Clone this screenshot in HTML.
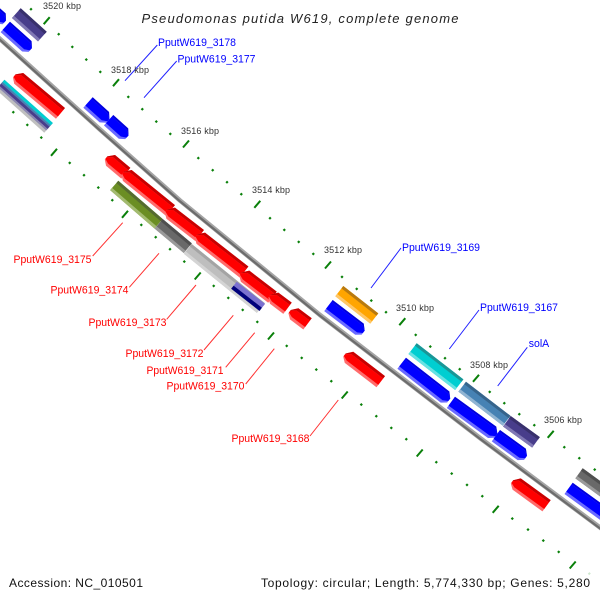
<!DOCTYPE html>
<html><head><meta charset="utf-8"><title>Pseudomonas putida W619, complete genome</title>
<style>
html,body{margin:0;padding:0;background:#fff;width:600px;height:600px;overflow:hidden}
svg{display:block}
text{font-family:"Liberation Sans",sans-serif}
.r .o{fill:#ff6b6b}.r .d{fill:#c80000}.r .m{fill:#ff0000}
.b .o{fill:#6a6aff}.b .d{fill:#0000dc}.b .m{fill:#0000ff}
.k{font-size:9px;fill:#333}
.gr{font-size:11px;fill:#ff0000}
.gb{font-size:11px;fill:#0000ff}
.ft{font-size:12px;fill:#111}
</style></head><body>
<svg width="600" height="600" viewBox="0 0 600 600" xmlns="http://www.w3.org/2000/svg">
<rect width="600" height="600" fill="#fff"/>

<!-- axis -->
<g fill="none" stroke-linejoin="round">
<path d="M-10 30 L0 39 L100 129.5 L180 200.5 L320 315 L480 438 L610 535" stroke="#a4a4a4" stroke-width="4.6"/>
<path d="M-10 30 L0 39 L100 129.5 L180 200.5 L320 315 L480 438 L610 535" stroke="#6c6c6c" stroke-width="2.2" transform="translate(-.4,.5)"/>
</g>

<!-- ticks -->
<g fill="none" stroke="#0a800a" stroke-width="2">
<path d="M43.7 24.2L49.7 17.2M113 86.2L119 79.2M183 147.5L189 140.5M254.3 207.8L260.3 200.8M325 268.5L331 261.5M399.3 325.2L405.3 318.2M473 381.8L479 374.8M547.7 437.8L553.7 430.8M51 155.8L57 148.8M122 217.8L128 210.8M194.7 279.5L200.7 272.5M268 339.5L274 332.5M341.7 398.5L347.7 391.5M416.7 456.5L422.7 449.5M492.7 512.8L498.7 505.8M569.7 568.5L575.7 561.5"/>
<path stroke-width="2.2" d="M30.2 10l1.6-1.6M57.9 35l1.6-1.6M71.5 47.7l1.6-1.6M85.5 60.4l1.6-1.6M99.5 72.7l1.6-1.6M127.5 97.7l1.6-1.6M141.5 110l1.6-1.6M155.5 122.4l1.6-1.6M169.5 134.7l1.6-1.6M197.5 158.9l1.6-1.6M211.9 171l1.6-1.6M226.2 183l1.6-1.6M240.5 195l1.6-1.6M269.2 219l1.6-1.6M283.5 230.7l1.6-1.6M297.9 242.7l1.6-1.6M312.5 254.7l1.6-1.6M341.2 277.7l1.6-1.6M355.9 289.7l1.6-1.6M370.5 301.4l1.6-1.6M385.2 313l1.6-1.6M414.9 335.7l1.6-1.6M429.5 347.4l1.6-1.6M444.2 359l1.6-1.6M458.9 370l1.6-1.6M488.9 392.7l1.6-1.6M503.5 404l1.6-1.6M518.5 415l1.6-1.6M533.5 426l1.6-1.6M563.5 448l1.6-1.6M578.5 459l1.6-1.6M593.9 470.4l1.6-1.6M12.5 113l1.6-1.6M26.5 125.7l1.6-1.6M40.5 138.4l1.6-1.6M68.9 163.7l1.6-1.6M83.2 176l1.6-1.6M97.5 188.4l1.6-1.6M111.5 201l1.6-1.6M140.5 225.7l1.6-1.6M154.9 238l1.6-1.6M169.2 250l1.6-1.6M183.5 262.4l1.6-1.6M212.9 286.7l1.6-1.6M227.5 298.7l1.6-1.6M241.9 310.7l1.6-1.6M256.5 322.7l1.6-1.6M285.9 346.7l1.6-1.6M300.9 358.7l1.6-1.6M315.5 370.4l1.6-1.6M330.5 382l1.6-1.6M360.5 405.4l1.6-1.6M375.5 417l1.6-1.6M390.5 428.7l1.6-1.6M405.5 440l1.6-1.6M435.5 463l1.6-1.6M450.9 474.4l1.6-1.6M466.2 485.7l1.6-1.6M481.5 497l1.6-1.6M511.5 519.4l1.6-1.6M527.2 530.4l1.6-1.6M542.5 541.4l1.6-1.6M557.9 552.7l1.6-1.6"/>
<path d="M588.5 574.4l1.6-1.6" stroke="#cfe8cf"/>
</g>

<!-- blue arrows -->
<g class="b" transform="translate(-5.5,3.4) rotate(42)"><polygon class="o" points="0,0 15,0 20,5 20,10 15,14 0,14"/><polygon class="d" points="0,0 15,0 20,5 15,2 0,2"/><polygon class="m" points="0,2 15,2 20,5 20,8 15,11 0,11"/></g>
<g class="b" transform="translate(10,21.7) rotate(42)"><polygon class="o" points="0,0 29,0 34,5 34,10 29,14 0,14"/><polygon class="d" points="0,0 29,0 34,5 29,2 0,2"/><polygon class="m" points="0,2 29,2 34,5 34,8 29,11 0,11"/></g>
<g class="b" transform="translate(92.7,97.3) rotate(42)"><polygon class="o" points="0,0 22,0 27,5 27,10 22,14 0,14"/><polygon class="d" points="0,0 22,0 27,5 22,2 0,2"/><polygon class="m" points="0,2 22,2 27,5 27,8 22,11 0,11"/></g>
<g class="b" transform="translate(113.3,115) rotate(42)"><polygon class="o" points="0,0 20,0 25,5 25,10 20,14 0,14"/><polygon class="d" points="0,0 20,0 25,5 20,2 0,2"/><polygon class="m" points="0,2 20,2 25,5 25,8 20,11 0,11"/></g>
<g class="b" transform="translate(332.7,300) rotate(37.3)"><polygon class="o" points="0,0 39,0 44,5 44,10 39,14 0,14"/><polygon class="d" points="0,0 39,0 44,5 39,2 0,2"/><polygon class="m" points="0,2 39,2 44,5 44,8 39,11 0,11"/></g>
<g class="b" transform="translate(406,357.7) rotate(38)"><polygon class="o" points="0,0 55,0 60,5 60,10 55,14 0,14"/><polygon class="d" points="0,0 55,0 60,5 55,2 0,2"/><polygon class="m" points="0,2 55,2 60,5 60,8 55,11 0,11"/></g>
<g class="b" transform="translate(455,396.7) rotate(36)"><polygon class="o" points="0,0 51,0 56,5 56,10 51,14 0,14"/><polygon class="d" points="0,0 51,0 56,5 51,2 0,2"/><polygon class="m" points="0,2 51,2 56,5 56,8 51,11 0,11"/></g>
<g class="b" transform="translate(500,430) rotate(36)"><polygon class="o" points="0,0 32,0 37,5 37,10 32,14 0,14"/><polygon class="d" points="0,0 32,0 37,5 32,2 0,2"/><polygon class="m" points="0,2 32,2 37,5 37,8 32,11 0,11"/></g>
<g class="b" transform="translate(572.7,482.7) rotate(36)"><polygon class="o" points="0,0 60,0 60,14 0,14"/><polygon class="d" points="0,0 60,0 60,2 0,2"/><polygon class="m" points="0,2 60,2 60,11 0,11"/></g>

<!-- red arrows -->
<g class="r" transform="translate(19.4,69.8) rotate(40)"><polygon class="o" points="0,6 5,0 59.5,0 59.5,14 5,14 0,10"/><polygon class="d" points="0,6 5,0 59.5,0 59.5,3 5,3 0,7"/><polygon class="m" points="0,7 5,3 59.5,3 59.5,11 5,11 0,9"/></g>
<g class="r" transform="translate(111.2,151.8) rotate(40)"><polygon class="o" points="0,6 5,0 25,0 25,14 5,14 0,10"/><polygon class="d" points="0,6 5,0 25,0 25,3 5,3 0,7"/><polygon class="m" points="0,7 5,3 25,3 25,11 5,11 0,9"/></g>
<g class="r" transform="translate(127.8,166.9) rotate(39)"><polygon class="o" points="0,6 5,0 60.7,0 60.7,14 5,14 0,10"/><polygon class="d" points="0,6 5,0 60.7,0 60.7,3 5,3 0,7"/><polygon class="m" points="0,7 5,3 60.7,3 60.7,11 5,11 0,9"/></g>
<g class="r" transform="translate(171,204.6) rotate(37.6)"><polygon class="o" points="0,6 5,0 41.6,0 41.6,14 5,14 0,10"/><polygon class="d" points="0,6 5,0 41.6,0 41.6,3 5,3 0,7"/><polygon class="m" points="0,7 5,3 41.6,3 41.6,11 5,11 0,9"/></g>
<g class="r" transform="translate(201.1,229.6) rotate(38)"><polygon class="o" points="0,6 5,0 60,0 60,14 5,14 0,10"/><polygon class="d" points="0,6 5,0 60,0 60,3 5,3 0,7"/><polygon class="m" points="0,7 5,3 60,3 60,11 5,11 0,9"/></g>
<g class="r" transform="translate(245.4,267.6) rotate(37.5)"><polygon class="o" points="0,6 5,0 39.5,0 39.5,14 5,14 0,10"/><polygon class="d" points="0,6 5,0 39.5,0 39.5,3 5,3 0,7"/><polygon class="m" points="0,7 5,3 39.5,3 39.5,11 5,11 0,9"/></g>
<g class="r" transform="translate(274.4,289.6) rotate(37)"><polygon class="o" points="0,6 5,0 21.7,0 21.7,14 5,14 0,10"/><polygon class="d" points="0,6 5,0 21.7,0 21.7,3 5,3 0,7"/><polygon class="m" points="0,7 5,3 21.7,3 21.7,11 5,11 0,9"/></g>
<g class="r" transform="translate(294.4,305.2) rotate(37)"><polygon class="o" points="0,6 5,0 21.7,0 21.7,14 5,14 0,10"/><polygon class="d" points="0,6 5,0 21.7,0 21.7,3 5,3 0,7"/><polygon class="m" points="0,7 5,3 21.7,3 21.7,11 5,11 0,9"/></g>
<g class="r" transform="translate(349.3,348.7) rotate(37.5)"><polygon class="o" points="0,6 5,0 45,0 45,14 5,14 0,10"/><polygon class="d" points="0,6 5,0 45,0 45,3 5,3 0,7"/><polygon class="m" points="0,7 5,3 45,3 45,11 5,11 0,9"/></g>
<g class="r" transform="translate(516.7,475.4) rotate(36)"><polygon class="o" points="0,6 5,0 42,0 42,14 5,14 0,10"/><polygon class="d" points="0,6 5,0 42,0 42,3 5,3 0,7"/><polygon class="m" points="0,7 5,3 42,3 42,11 5,11 0,9"/></g>

<!-- rectangular genes -->
<g transform="translate(20.7,8.3) rotate(42)"><rect width="35" height="13" fill="#483d8b"/><rect width="35" height="3" fill="#38306c"/><rect y="10" width="35" height="3" fill="#8078b4"/></g>
<g transform="translate(6.7,81.7) rotate(41.8)">
<rect x="-3" width="65" height="13" fill="#c0c0c0"/>
<rect x="-3" width="65" height="3" fill="#00ced1"/>
<rect x="-3" y="3" width="65" height="2" fill="#4682b4"/>
<rect x="-3" y="5" width="65" height="3" fill="#483d8b"/>
<rect x="-3" y="8" width="65" height="2" fill="#8a86b0"/></g>
<g transform="translate(118.3,180.7) rotate(40.8)"><rect width="58.6" height="12.5" fill="#6b8e23"/><rect width="58.6" height="3" fill="#556b2f"/><rect y="9.5" width="58.6" height="3" fill="#a3bb70"/></g>
<g transform="translate(162.7,219) rotate(40)"><rect width="38" height="12.5" fill="#696969"/><rect width="38" height="3" fill="#4f4f4f"/><rect y="9.5" width="38" height="3" fill="#9a9a9a"/></g>
<g transform="translate(191.7,244) rotate(39)"><rect width="94" height="12.5" fill="#bebebe"/><rect width="94" height="3" fill="#a4a4a4"/><rect y="9.5" width="94" height="3" fill="#d4d4d4"/></g>
<g transform="translate(236.7,281.7) rotate(38)"><rect width="36" height="5" fill="#7a70d0"/><rect y="5" width="36" height="4" fill="#00007c"/></g>
<g transform="translate(343.3,286) rotate(38)"><rect width="44.4" height="13" fill="#ffa500"/><rect width="44.4" height="3" fill="#b87a10"/><rect y="10" width="44.4" height="3" fill="#ffc766"/></g>
<g transform="translate(416.7,343.3) rotate(37.7)"><rect width="59" height="13.5" fill="#00ced1"/><rect width="59" height="3" fill="#1a9696"/><rect y="10.5" width="59" height="3" fill="#66e2e3"/></g>
<g transform="translate(466,381.7) rotate(37.5)"><rect width="56" height="12.5" fill="#4682b4"/><rect width="56" height="3" fill="#36648b"/><rect y="9.5" width="56" height="3" fill="#90b4d2"/></g>
<g transform="translate(510.7,416) rotate(36)"><rect width="36" height="13" fill="#483d8b"/><rect width="36" height="3" fill="#38306c"/><rect y="10" width="36" height="3" fill="#8078b4"/></g>
<g transform="translate(582.7,468.3) rotate(36)"><rect width="40" height="12.5" fill="#696969"/><rect width="40" height="3" fill="#4f4f4f"/><rect y="9.5" width="40" height="3" fill="#9a9a9a"/></g>

<!-- leader lines -->
<g stroke="#ff3030" stroke-width="1" fill="none">
<path d="M92.7 256L122.7 222.7M129.3 287.3L159 253.3M166.7 319.3L196 285M204 350L233.3 315.3M225.7 367.3L254.7 332.7M245.7 384L274.3 348.7M310 436L338.3 400"/>
</g>
<g stroke="#2020ff" stroke-width="1" fill="none">
<path d="M157.3 45L125 80.7M176.7 61L144 97.7M401 248L371 288M479 310L449.3 349M527.3 347.3L497.7 386"/>
</g>

<!-- tick labels -->
<text class="k" x="43" y="9" textLength="38" lengthAdjust="spacing">3520 kbp</text>
<text class="k" x="111" y="73" textLength="38" lengthAdjust="spacing">3518 kbp</text>
<text class="k" x="181" y="134" textLength="38" lengthAdjust="spacing">3516 kbp</text>
<text class="k" x="252" y="193" textLength="38" lengthAdjust="spacing">3514 kbp</text>
<text class="k" x="324" y="253" textLength="38" lengthAdjust="spacing">3512 kbp</text>
<text class="k" x="396" y="311" textLength="38" lengthAdjust="spacing">3510 kbp</text>
<text class="k" x="470" y="368" textLength="38" lengthAdjust="spacing">3508 kbp</text>
<text class="k" x="544" y="423" textLength="38" lengthAdjust="spacing">3506 kbp</text>

<!-- gene labels -->
<text class="gb" x="158" y="46" textLength="78" lengthAdjust="spacingAndGlyphs">PputW619_3178</text>
<text class="gb" x="177.5" y="62.5" textLength="78" lengthAdjust="spacingAndGlyphs">PputW619_3177</text>
<text class="gb" x="402" y="251" textLength="78" lengthAdjust="spacingAndGlyphs">PputW619_3169</text>
<text class="gb" x="480" y="311" textLength="78" lengthAdjust="spacingAndGlyphs">PputW619_3167</text>
<text class="gb" x="528.7" y="347" textLength="20.5" lengthAdjust="spacingAndGlyphs">solA</text>
<text class="gr" x="13.5" y="263" textLength="78" lengthAdjust="spacingAndGlyphs">PputW619_3175</text>
<text class="gr" x="50.5" y="293.5" textLength="78" lengthAdjust="spacingAndGlyphs">PputW619_3174</text>
<text class="gr" x="88.5" y="326" textLength="78" lengthAdjust="spacingAndGlyphs">PputW619_3173</text>
<text class="gr" x="125.5" y="357" textLength="78" lengthAdjust="spacingAndGlyphs">PputW619_3172</text>
<text class="gr" x="146.5" y="374" textLength="77" lengthAdjust="spacingAndGlyphs">PputW619_3171</text>
<text class="gr" x="166.5" y="389.5" textLength="78" lengthAdjust="spacingAndGlyphs">PputW619_3170</text>
<text class="gr" x="231.5" y="442" textLength="78" lengthAdjust="spacingAndGlyphs">PputW619_3168</text>

<!-- title & footer -->
<text x="141.5" y="23" font-size="13" font-style="italic" fill="#222" textLength="317" lengthAdjust="spacing">Pseudomonas putida W619, complete genome</text>
<text class="ft" x="9" y="587" textLength="134" lengthAdjust="spacing">Accession: NC_010501</text>
<text class="ft" x="261" y="587" textLength="329" lengthAdjust="spacing">Topology: circular; Length: 5,774,330 bp; Genes: 5,280</text>
</svg>
</body></html>
